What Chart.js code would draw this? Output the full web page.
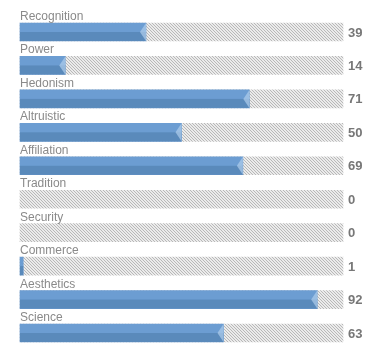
<!DOCTYPE html>
<html>
<head>
<meta charset="utf-8">
<script src="https://cdn.jsdelivr.net/npm/chart.js@4.4.1/dist/chart.umd.min.js"></script>
<style>
  html, body { margin: 0; padding: 0; background: #fff; }
  .container { position: relative; width: 385px; height: 347px; }
</style>
</head>
<body>
<div class="container"><canvas id="valuesChart"></canvas></div>
<script>
  const categories = ["Recognition", "Power", "Hedonism", "Altruistic", "Affiliation", "Tradition", "Security", "Commerce", "Aesthetics", "Science"];
  const scores = [39, 14, 71, 50, 69, 0, 0, 1, 92, 63];
  const maxScore = 100;
  const track = categories.map(() => maxScore);

  // hatched background for the empty part of each bar
  function hatchPattern() {
    const c = document.createElement('canvas');
    c.width = 3; c.height = 3;
    const g = c.getContext('2d');
    g.fillStyle = '#ebebeb';
    g.fillRect(0, 0, 3, 3);
    g.fillStyle = '#b8b8b8';
    g.fillRect(0, 0, 1, 1);
    g.fillRect(1, 1, 1, 1);
    g.fillRect(2, 2, 1, 1);
    return g.createPattern(c, 'repeat');
  }

  const barDecor = {
    id: 'barDecor',
    afterDatasetDraw(chart, args) {
      if (args.index !== 0) return;
      const ctx = chart.ctx;
      args.meta.data.forEach((bar, i) => {
        if (!scores[i]) return;
        const { x, y, base, height } = bar.getProps(['x', 'y', 'base', 'height'], true);
        const h = height / 2;
        ctx.save();
        ctx.fillStyle = '#5a8abb';
        ctx.fillRect(base, y, x - base, h);
        if (x - base > 8) {
          ctx.fillStyle = 'rgba(175, 205, 235, 0.7)';
          ctx.beginPath();
          ctx.moveTo(x, y - h);
          ctx.lineTo(x - 6, y);
          ctx.lineTo(x, y + h);
          ctx.closePath();
          ctx.fill();
        }
        ctx.restore();
      });
    },
    afterDraw(chart) {
      const ctx = chart.ctx;
      const meta = chart.getDatasetMeta(1);
      ctx.save();
      meta.data.forEach((bar, i) => {
        const { x, y, base, height } = bar.getProps(['x', 'y', 'base', 'height'], true);
        ctx.fillStyle = '#8a8a8a';
        ctx.font = '12px "Liberation Sans", Arial, sans-serif';
        ctx.textAlign = 'left';
        ctx.textBaseline = 'alphabetic';
        ctx.fillText(categories[i], base, y - height / 2 - 3);
        ctx.fillStyle = '#777777';
        ctx.font = 'bold 13px "Liberation Sans", Arial, sans-serif';
        ctx.textBaseline = 'middle';
        ctx.fillText(String(scores[i]), x + 5, y + 1);
      });
      ctx.restore();
    }
  };

  new Chart(document.getElementById('valuesChart').getContext('2d'), {
    type: 'bar',
    data: {
      labels: categories,
      datasets: [{
        data: scores,
        backgroundColor: ctx => (ctx.raw ? '#6c9dd2' : 'rgba(0,0,0,0)'),
        barThickness: 18,
        clip: false
      }, {
        data: track,
        backgroundColor: hatchPattern(),
        barThickness: 18,
        clip: false
      }]
    },
    options: {
      indexAxis: 'y',
      responsive: true,
      maintainAspectRatio: false,
      animation: false,
      layout: { padding: { left: 20, right: 42, top: 32, bottom: 14 } },
      plugins: { legend: { display: false }, tooltip: { enabled: false } },
      scales: {
        x: { display: false, min: 0, max: maxScore },
        y: { display: false, offset: false, stacked: false }
      },
      datasets: { bar: { grouped: false } }
    },
    plugins: [barDecor]
  });
</script>
</body>
</html>
